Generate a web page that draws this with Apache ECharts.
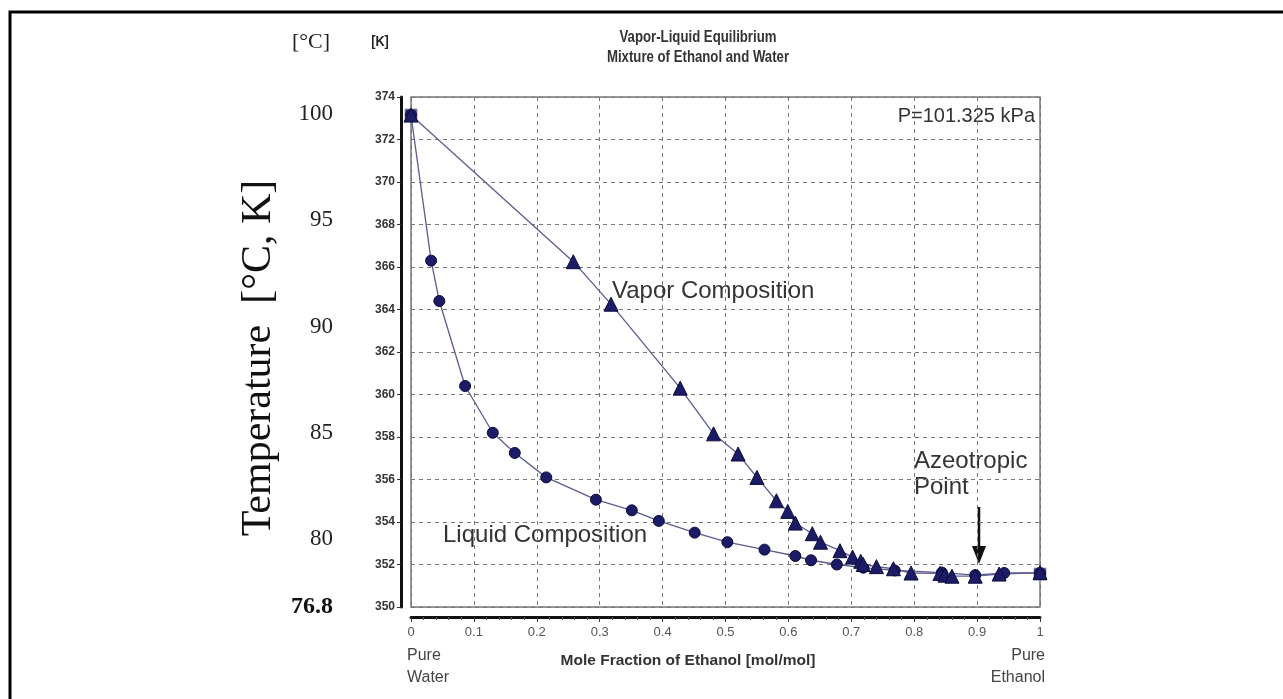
<!DOCTYPE html>
<html>
<head>
<meta charset="utf-8">
<title>Vapor-Liquid Equilibrium</title>
<script src="https://cdn.jsdelivr.net/npm/echarts@6/dist/echarts.min.js"></script>
<style>
  html, body { margin: 0; padding: 0; background: #fff; }
  #main { width: 1283px; height: 699px; }
</style>
</head>
<body>
<div id="main"></div>
<script>
// liquid composition (circles)
var liquidX = [0, 0.032, 0.045, 0.086, 0.130, 0.165, 0.215, 0.294, 0.351, 0.394, 0.451, 0.503, 0.562, 0.611, 0.636, 0.677, 0.719, 0.769, 0.844, 0.897, 0.943, 1.0];
var liquidT = [373.15, 366.3, 364.4, 360.4, 358.2, 357.25, 356.1, 355.05, 354.55, 354.05, 353.5, 353.05, 352.7, 352.4, 352.2, 352.0, 351.85, 351.72, 351.62, 351.5, 351.6, 351.6];
// vapor composition (triangles)
var vaporX = [0, 0.258, 0.318, 0.428, 0.481, 0.52, 0.55, 0.581, 0.599, 0.611, 0.638, 0.651, 0.682, 0.702, 0.715, 0.719, 0.74, 0.767, 0.795, 0.841, 0.849, 0.86, 0.897, 0.935, 1.0];
var vaporT = [373.15, 366.25, 364.25, 360.3, 358.15, 357.2, 356.1, 355.0, 354.5, 353.95, 353.45, 353.05, 352.65, 352.35, 352.15, 352.0, 351.9, 351.8, 351.6, 351.58, 351.5, 351.45, 351.45, 351.55, 351.62];
// pure components
var pureX = [0, 1];
var pureT = [373.15, 351.55];
var celsiusTicks = [76.8, 80, 85, 90, 95, 100];

function pairs(xs, ys) {
    return xs.map(function (x, i) { return [x, ys[i]]; });
}

var sans = "'Liberation Sans', Arial, sans-serif";
var serif = "'Liberation Serif', 'Times New Roman', serif";
var navy = '#1b1b66';
var lineCol = '#5c5c90';

var chart = echarts.init(document.getElementById('main'));

var option = {
    backgroundColor: '#fff',
    animation: false,
    grid: {
        left: 411, right: 243, top: 97, bottom: 92,
        show: true, borderColor: '#777', borderWidth: 1.5
    },
    xAxis: {
        type: 'value', min: 0, max: 1, interval: 0.1, offset: 10,
        axisLine: { onZero: false, lineStyle: { color: '#111', width: 3 } },
        axisTick: { length: 5, lineStyle: { color: '#333' } },
        minorTick: { show: true, splitNumber: 5, length: 3, lineStyle: { color: '#555' } },
        axisLabel: { color: '#555', fontSize: 13, fontFamily: sans, margin: 9 },
        splitLine: { lineStyle: { color: '#777', type: [4, 4] } }
    },
    yAxis: [{
        type: 'value', min: 350, max: 374, interval: 2, offset: 10, position: 'left',
        axisLine: { show: true, onZero: false, lineStyle: { color: '#111', width: 3 } },
        axisTick: { show: true, length: 4, lineStyle: { color: '#333' } },
        axisLabel: { color: '#333', fontSize: 12, fontWeight: 'bold', fontFamily: sans, margin: 6 },
        splitLine: { lineStyle: { color: '#777', type: [4, 4] } }
    }, {
        type: 'value', min: 76.8, max: 100.8, position: 'left', offset: 78,
        axisLine: { show: false, onZero: false }, axisTick: { show: false }, splitLine: { show: false },
        axisLabel: {
            customValues: celsiusTicks, margin: 0,
            color: '#222', fontSize: 23, fontFamily: serif,
            formatter: function (v) { return v === 76.8 ? '{b|76.8}' : String(v); },
            rich: { b: { fontSize: 24, fontFamily: serif, fontWeight: 'bold', color: '#111' } }
        }
    }],
    series: [{
        name: 'Liquid', type: 'line', data: pairs(liquidX, liquidT),
        symbol: 'circle', symbolSize: 11,
        lineStyle: { color: lineCol, width: 1.3 },
        itemStyle: { color: navy, borderColor: '#0c0c3c', borderWidth: 1 }
    }, {
        name: 'Vapor', type: 'line', data: pairs(vaporX, vaporT),
        symbol: 'triangle', symbolSize: 14,
        lineStyle: { color: lineCol, width: 1.3 },
        itemStyle: { color: navy, borderColor: '#0c0c3c', borderWidth: 1 }
    }, {
        name: 'Pure', type: 'scatter', data: pairs(pureX, pureT),
        symbol: 'rect', symbolSize: 12, z: 1,
        itemStyle: { color: navy, borderColor: '#8888aa', borderWidth: 1 }
    }],
    graphic: [
        { type: 'rect', shape: { x: 10, y: 12, width: 1300, height: 720 }, style: { fill: 'none', stroke: '#000', lineWidth: 3 } },
        { type: 'text', x: 698, y: 37, scaleX: 0.8, style: { text: 'Vapor-Liquid Equilibrium', font: 'bold 16.5px ' + sans, fill: '#333', align: 'center', verticalAlign: 'middle' } },
        { type: 'text', x: 698, y: 57, scaleX: 0.8, style: { text: 'Mixture of Ethanol and Water', font: 'bold 16.5px ' + sans, fill: '#333', align: 'center', verticalAlign: 'middle' } },
        { type: 'text', x: 311, y: 42, style: { text: '[°C]', font: '22px ' + serif, fill: '#222', align: 'center', verticalAlign: 'middle' } },
        { type: 'text', x: 380, y: 42, scaleX: 0.85, style: { text: '[K]', font: 'bold 15px ' + sans, fill: '#222', align: 'center', verticalAlign: 'middle' } },
        { type: 'text', x: 259, y: 358, rotation: Math.PI / 2, style: { text: 'Temperature  [°C, K]', font: '42px ' + serif, fill: '#111', align: 'center', verticalAlign: 'middle' } },
        { type: 'text', x: 1035, y: 116, style: { text: 'P=101.325 kPa', font: '20px ' + sans, fill: '#333', align: 'right', verticalAlign: 'middle' } },
        { type: 'text', x: 612, y: 291, style: { text: 'Vapor Composition', font: '24px ' + sans, fill: '#333', align: 'left', verticalAlign: 'middle' } },
        { type: 'text', x: 443, y: 535, style: { text: 'Liquid Composition', font: '24px ' + sans, fill: '#333', align: 'left', verticalAlign: 'middle' } },
        { type: 'text', x: 914, y: 448, style: { text: 'Azeotropic\nPoint', font: '24px ' + sans, lineHeight: 26, fill: '#333', align: 'left', verticalAlign: 'top' } },
        { type: 'line', shape: { x1: 979, y1: 507, x2: 979, y2: 552 }, style: { stroke: '#111', lineWidth: 2.5 } },
        { type: 'polygon', shape: { points: [[972, 546], [986, 546], [979, 564]] }, style: { fill: '#111' } },
        { type: 'text', x: 688, y: 661, style: { text: 'Mole Fraction of Ethanol [mol/mol]', font: 'bold 15.5px ' + sans, fill: '#333', align: 'center', verticalAlign: 'middle' } },
        { type: 'text', x: 407, y: 645, style: { text: 'Pure\nWater', font: '16px ' + sans, lineHeight: 22, fill: '#444', align: 'left', verticalAlign: 'top' } },
        { type: 'text', x: 1045, y: 645, style: { text: 'Pure\nEthanol', font: '16px ' + sans, lineHeight: 22, fill: '#444', align: 'right', verticalAlign: 'top' } }
    ]
};

chart.setOption(option);
</script>
</body>
</html>
